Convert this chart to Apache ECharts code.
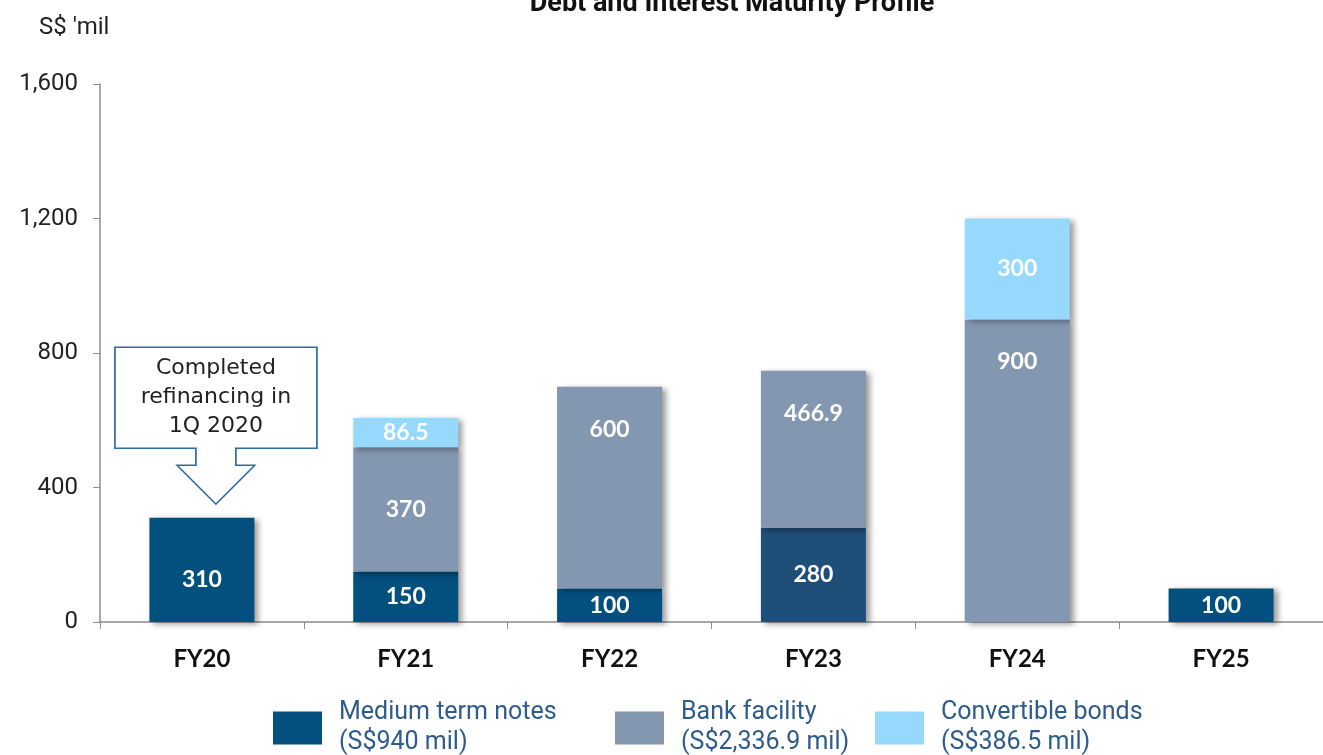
<!DOCTYPE html>
<html>
<head>
<meta charset="utf-8">
<script src="https://cdn.jsdelivr.net/npm/echarts@6/dist/echarts.min.js"></script>
<style>
  html, body { margin: 0; padding: 0; background: #fff; }
  #main { width: 1323px; height: 755px; }
</style>
</head>
<body>
<div id="main"></div>
<script>
var myChart = echarts.init(document.getElementById('main'));

var categories = ['FY20', 'FY21', 'FY22', 'FY23', 'FY24', 'FY25'];
var mtnValues = [310, 150, 100, 280, null, 100];
var bankValues = [null, 370, 600, 466.9, 900, null];
var cbValues = [null, 86.5, null, null, 300, null];
var seriesNames = ['Medium term notes', 'Bank facility', 'Convertible bonds'];
var legendTotals = ['(S$940 mil)', '(S$2,336.9 mil)', '(S$386.5 mil)'];
var yTicks = [0, 400, 800, 1200, 1600];

var thinFont = 'Roboto';

var shadow = {
    shadowColor: 'rgba(0,0,0,0.4)',
    shadowBlur: 6,
    shadowOffsetX: 4,
    shadowOffsetY: 2
};

var barLabel = {
    show: true,
    color: '#fff',
    fontFamily: 'Lato',
    fontWeight: 'bold',
    fontSize: 23,
    formatter: function (p) { return p.value; }
};

// callout arrow shape (box + down arrow)
var calloutPath = 'path://M0 0 L202 0 L202 101 L121 101 L121 118 L140 118 L101 157 L62 118 L81 118 L81 101 L0 101 Z';

function mtnData() {
    return mtnValues.map(function (v, i) {
        var d = {value: v};
        if (i === 3) d.itemStyle = {color: '#1F4E79'};
        if (i === 0) d.label = {offset: [0, 10]};
        return d;
    });
}

function bankData() {
    return bankValues.map(function (v, i) {
        var d = {value: v};
        if (i === 1) d.label = {position: 'inside'};
        return d;
    });
}

// one legend per item so each can sit where the reference has it
var legendLefts = [268, 610, 870];
var legends = seriesNames.map(function (name, i) {
    return {
        bottom: -8,
        left: legendLefts[i],
        itemWidth: 49,
        itemHeight: 33,
        icon: 'rect',
        data: [name],
        formatter: function (n) {
            return n + '\n' + legendTotals[seriesNames.indexOf(n)];
        },
        textStyle: {fontFamily: thinFont, fontSize: 25, color: '#2E5C8A', lineHeight: 30, padding: [0, 0, 0, 12]}
    };
});

option = {
    animation: false,
    title: [{
        text: 'Debt and Interest Maturity Profile',
        left: 727,
        top: -14,
        textAlign: 'center',
        textStyle: {fontFamily: thinFont, fontSize: 27, fontWeight: 'bold', color: '#111'}
    }, {
        text: "S$ 'mil",
        left: 34,
        top: 11,
        textStyle: {fontFamily: thinFont, fontSize: 24, fontWeight: 'normal', color: '#222'}
    }],
    legend: legends,
    grid: {left: 100, right: -1, top: 84, bottom: 133},
    xAxis: {
        type: 'category',
        data: categories,
        axisLine: {lineStyle: {color: '#8c8c8c', width: 1.5}},
        axisTick: {show: true, length: 7, lineStyle: {color: '#8c8c8c'}},
        axisLabel: {margin: 25, fontFamily: 'Lato', fontWeight: 'bold', fontSize: 24, color: '#111'}
    },
    yAxis: {
        type: 'value',
        min: yTicks[0],
        max: yTicks[yTicks.length - 1],
        interval: 400,
        splitLine: {show: false},
        axisLine: {show: true, lineStyle: {color: '#8c8c8c', width: 1.5}},
        axisTick: {show: true, length: 7, lineStyle: {color: '#8c8c8c'}},
        axisLabel: {
            margin: 22,
            fontFamily: thinFont,
            fontSize: 24,
            color: '#222',
            formatter: function (v) { return v.toLocaleString('en-US'); }
        }
    },
    series: [{
        name: seriesNames[0],
        type: 'bar',
        stack: 'debt',
        barWidth: 105,
        itemStyle: Object.assign({color: '#03507F'}, shadow),
        label: Object.assign({position: 'inside'}, barLabel),
        data: mtnData(),
        markPoint: {
            symbol: calloutPath,
            symbolSize: [202, 157],
            symbolKeepAspect: false,
            symbolOffset: [14, -92],
            itemStyle: {color: '#fff', borderColor: '#2E6BA5', borderWidth: 1.5, shadowBlur: 0, shadowOffsetX: 0, shadowOffsetY: 0},
            label: {
                show: true,
                position: 'inside',
                offset: [0, -28],
                formatter: 'Completed\nrefinancing in\n1Q 2020',
                fontFamily: 'DejaVu Sans',
                fontSize: 22,
                lineHeight: 29,
                color: '#222'
            },
            data: [{coord: [categories[0], mtnValues[0]]}]
        }
    }, {
        name: seriesNames[1],
        type: 'bar',
        stack: 'debt',
        barWidth: 105,
        itemStyle: Object.assign({color: '#8497B0'}, shadow),
        label: Object.assign({position: 'insideTop', distance: 31}, barLabel),
        data: bankData()
    }, {
        name: seriesNames[2],
        type: 'bar',
        stack: 'debt',
        barWidth: 105,
        itemStyle: Object.assign({color: '#97D9FD'}, shadow),
        label: Object.assign({position: 'inside'}, barLabel),
        data: cbValues
    }]
};

myChart.setOption(option);
</script>
</body>
</html>
